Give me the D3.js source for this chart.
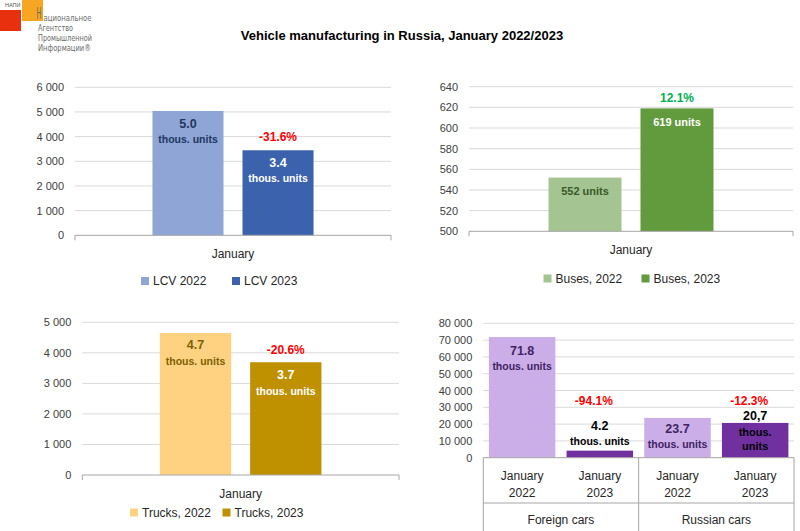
<!DOCTYPE html>
<html><head><meta charset="utf-8">
<script src="https://cdn.jsdelivr.net/npm/d3@7"></script>
<style>body{margin:0;background:#fff}svg{display:block}</style>
</head><body>
<svg id="c" width="800" height="531"></svg>
<script>
// ---------- DATA ----------
const title = "Vehicle manufacturing in Russia, January 2022/2023";
const category = "January";

const lcvSeries = ["LCV 2022", "LCV 2023"];
const lcvValues = [5040, 3447];
const lcvTicks = [0, 1000, 2000, 3000, 4000, 5000, 6000];
const lcvLabels = [["5.0", "thous. units"], ["3.4", "thous. units"]];
const lcvChange = "-31.6%";

const busSeries = ["Buses, 2022", "Buses, 2023"];
const busValues = [552, 619];
const busTicks = [500, 520, 540, 560, 580, 600, 620, 640];
const busLabels = [["552 units"], ["619 units"]];
const busChange = "12.1%";

const truckSeries = ["Trucks, 2022", "Trucks, 2023"];
const truckValues = [4650, 3692];
const truckTicks = [0, 1000, 2000, 3000, 4000, 5000];
const truckLabels = [["4.7", "thous. units"], ["3.7", "thous. units"]];
const truckChange = "-20.6%";

const carGroups = ["Foreign cars", "Russian cars"];
const carPeriods = [["January", "2022"], ["January", "2023"]];
const carValues = [71800, 4200, 23700, 20700];
const carTicks = [0, 10000, 20000, 30000, 40000, 50000, 60000, 70000, 80000];
const carLabels = [["71.8", "thous. units"], ["4.2", "thous. units"], ["23.7", "thous. units"], ["20,7", "thous.", "units"]];
const carChanges = ["-94.1%", "-12.3%"];

const logoLines = ["ациональное", "Агентство", "Промышленной", "Информации®"];

// ---------- RENDER ----------
const svg = d3.select("#c");
const FONT = "'Liberation Sans', Arial, sans-serif";
const NARROW = "'Liberation Sans Narrow','DejaVu Sans Condensed','Liberation Sans',sans-serif";
const fmt = d3.formatLocale({decimal: ".", thousands: " ", grouping: [3], currency: ["", ""]}).format(",");
const GRID = "#D9D9D9", AXIS = "#A6A6A6", TICKTXT = "#404040";

// Logo
const logo = svg.append("g");
logo.append("rect").attr("x", 22).attr("y", 0).attr("width", 21).attr("height", 21).attr("fill", "#F6A623");
logo.append("rect").attr("x", 0).attr("y", 10).attr("width", 21).attr("height", 21).attr("fill", "#E8300E");
logo.append("text").attr("x", 5).attr("y", 7).attr("font-family", FONT).attr("font-size", 5.5).attr("fill", "#555").text("НАПИ");
logo.append("text").attr("transform", "translate(36.5,19) scale(0.75,1.8)").attr("font-family", FONT).attr("font-size", 9)
  .attr("fill", "#6b6b6b").text("Н");
const logoX = [43.5, 38, 38, 38];
const logoW = [48, 35, 54, 53];
logoLines.forEach((t, i) => {
  logo.append("text").attr("x", logoX[i]).attr("y", 20.5 + i * 10)
    .attr("font-family", NARROW).attr("font-size", 8.7).attr("fill", "#6b6b6b")
    .attr("textLength", logoW[i]).attr("lengthAdjust", "spacingAndGlyphs").text(t);
});

// Title
svg.append("text").attr("x", 402).attr("y", 39.5).attr("text-anchor", "middle")
  .attr("font-family", FONT).attr("font-weight", "bold").attr("font-size", 13).attr("fill", "#000").text(title);

function txt(g, x, y, s, o = {}) {
  return g.append("text").attr("x", x).attr("y", y).attr("text-anchor", o.anchor || "middle")
    .attr("dominant-baseline", "central").attr("font-family", FONT)
    .attr("font-size", o.size || 12).attr("font-weight", o.bold ? "bold" : "normal")
    .attr("fill", o.fill || "#000").text(s);
}

function gridAndTicks(g, y, ticks, left, right) {
  ticks.forEach((t, i) => {
    if (i > 0) g.append("line").attr("x1", left).attr("x2", right).attr("y1", y(t)).attr("y2", y(t)).attr("stroke", GRID).attr("stroke-width", 1);
    txt(g, left - 11, y(t), fmt(t), {anchor: "end", size: 11, fill: TICKTXT});
  });
}

function singleChart(cfg) {
  const g = svg.append("g");
  const y = d3.scaleLinear().domain([cfg.ticks[0], cfg.ticks[cfg.ticks.length - 1]]).range([cfg.bottom, cfg.top]);
  const x0 = d3.scaleBand().domain([category]).range([cfg.left, cfg.right]).paddingInner(0).paddingOuter(cfg.po);
  const x1 = d3.scaleBand().domain(cfg.series).range([0, x0.bandwidth()]).paddingInner(cfg.pi);
  gridAndTicks(g, y, cfg.ticks, cfg.left, cfg.right);
  cfg.series.forEach((s, i) => {
    const bx = x0(category) + x1(s);
    g.append("rect").attr("x", bx).attr("y", y(cfg.values[i])).attr("width", x1.bandwidth())
      .attr("height", y(cfg.ticks[0]) - y(cfg.values[i])).attr("fill", cfg.colors[i]);
    const cx = bx + x1.bandwidth() / 2;
    cfg.labels[i].forEach((l, j) => {
      const isUnit = /units|thous/.test(l);
      txt(g, cx, y(cfg.values[i]) + cfg.labelDy[j], l, {bold: true, size: isUnit ? (l.length > 10 ? 10.5 : 11) : 12.5, fill: cfg.labelColors[i]});
    });
    if (i === 1) txt(g, cx, y(cfg.values[i]) + cfg.changeDy, cfg.change, {bold: true, size: 12, fill: cfg.changeColor});
  });
  // axis
  const by = y(cfg.ticks[0]);
  g.append("line").attr("x1", cfg.left).attr("x2", cfg.right).attr("y1", by).attr("y2", by).attr("stroke", AXIS);
  [cfg.left, cfg.right].forEach(xx => g.append("line").attr("x1", xx).attr("x2", xx).attr("y1", by).attr("y2", by + 5).attr("stroke", AXIS));
  txt(g, x0(category) + x0.bandwidth() / 2, cfg.catY, category, {size: 12, fill: "#262626"});
  cfg.series.forEach((s, i) => {
    const lx = cfg.legendX[i];
    g.append("rect").attr("x", lx).attr("y", cfg.legendY - 4).attr("width", 8).attr("height", 8).attr("fill", cfg.colors[i]);
    txt(g, lx + 12, cfg.legendY, s, {anchor: "start", size: 12, fill: "#262626"});
  });
}

singleChart({
  left: 75, right: 391, top: 87.3, bottom: 235.3, po: 0.481, pi: 0.211,
  ticks: lcvTicks, series: lcvSeries, values: lcvValues, labels: lcvLabels,
  colors: ["#8EA5D6", "#3B63AD"], labelColors: ["#22365F", "#FFFFFF"], labelDy: [13, 28],
  change: lcvChange, changeColor: "#FF0000", changeDy: -13.5,
  catY: 254, legendY: 281, legendX: [141, 232]
});
singleChart({
  left: 469, right: 793, top: 86.7, bottom: 231.3, po: 0.482, pi: 0.2065,
  ticks: busTicks, series: busSeries, values: busValues, labels: busLabels,
  colors: ["#A4C492", "#629A3E"], labelColors: ["#3A5A28", "#FFFFFF"], labelDy: [13.5],
  change: busChange, changeColor: "#00B050", changeDy: -10,
  catY: 250, legendY: 278.5, legendX: [543.5, 641.5]
});
singleChart({
  left: 82.3, right: 399, top: 322.3, bottom: 475, po: 0.48, pi: 0.21,
  ticks: truckTicks, series: truckSeries, values: truckValues, labels: truckLabels,
  colors: ["#FED280", "#BF9000"], labelColors: ["#7F6000", "#FFFFFF"], labelDy: [12.5, 28.5],
  change: truckChange, changeColor: "#FF0000", changeDy: -12,
  catY: 494, legendY: 512.5, legendX: [130, 222.5]
});

// Cars chart (multi-level categories)
(function () {
  const g = svg.append("g");
  const left = 483.3, right = 794, top = 323.3, bottom = 457.7;
  const y = d3.scaleLinear().domain([carTicks[0], carTicks[carTicks.length - 1]]).range([bottom, top]);
  const xg = d3.scaleBand().domain(carGroups).range([left, right]);
  const xp = d3.scaleBand().domain(carPeriods.map(p => p.join(" "))).range([0, xg.bandwidth()]).paddingInner(0.144).paddingOuter(0.072);
  gridAndTicks(g, y, carTicks, left, right);
  const colors = ["#CBAEE8", "#7030A0"];
  const labelColors = ["#3F2363", "#000000"];
  const dys = [[14, 28.5], [-25, -10], [11.5, 26.5], [-6.5, 9.5, 23.5]];
  carGroups.forEach((grp, gi) => {
    carPeriods.forEach((p, pi) => {
      const k = gi * carPeriods.length + pi;
      const bx = xg(grp) + xp(p.join(" "));
      const v = carValues[k];
      g.append("rect").attr("x", bx).attr("y", y(v)).attr("width", xp.bandwidth()).attr("height", bottom - y(v)).attr("fill", colors[pi]);
      const cx = bx + xp.bandwidth() / 2;
      carLabels[k].forEach((l, j) => {
        const isUnit = /units|thous/.test(l);
        txt(g, cx, y(v) + dys[k][j], l, {bold: true, size: isUnit ? (l.length > 10 ? 10.5 : 11) : 12.5, fill: labelColors[pi]});
      });
      if (pi === 1) txt(g, cx - 6, 400.7, carChanges[gi], {bold: true, size: 12, fill: "#FF0000"});
      txt(g, cx, 475.7, p[0], {size: 12, fill: "#262626"});
      txt(g, cx, 492.7, p[1], {size: 12, fill: "#262626"});
    });
    txt(g, xg(grp) + xg.bandwidth() / 2, 519.5, grp, {size: 12, fill: "#262626"});
  });
  g.append("line").attr("x1", left).attr("x2", right).attr("y1", bottom).attr("y2", bottom).attr("stroke", AXIS);
  g.append("line").attr("x1", left).attr("x2", right).attr("y1", 503).attr("y2", 503).attr("stroke", AXIS);
  [left, xg(carGroups[1]), right].forEach(xx => g.append("line").attr("x1", xx).attr("x2", xx).attr("y1", bottom).attr("y2", 531).attr("stroke", AXIS));
})();
</script>
</body></html>
